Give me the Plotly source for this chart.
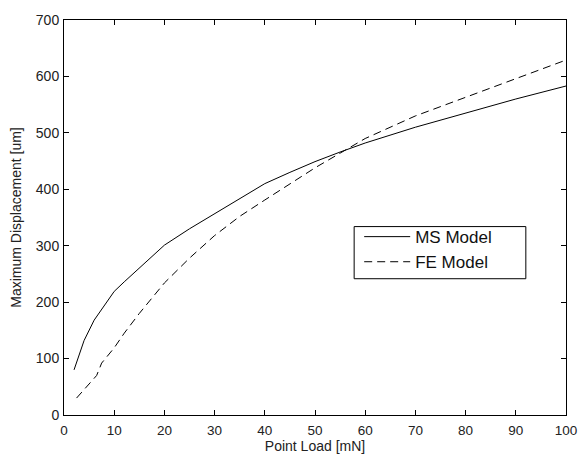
import plotly.graph_objects as go

ms_x = [2, 4, 6, 8, 10, 12, 15, 20, 25, 30, 35, 40, 45, 50, 55, 60, 70, 80, 90, 100]
ms_y = [80, 132, 168, 193, 219, 236, 260, 301, 330, 357, 384, 410, 430, 449, 466, 482, 510, 535, 560, 583]

fe_x = [2.5, 5, 6.5, 7.5, 10, 12, 15, 20, 25, 30, 35, 40, 45, 50, 55, 60, 70, 80, 90, 100]
fe_y = [30, 55, 70, 92, 119, 145, 180, 234, 278, 318, 352, 381, 410, 438, 464, 490, 530, 563, 597, 629]

x_ticks = [0, 10, 20, 30, 40, 50, 60, 70, 80, 90, 100]
y_ticks = [0, 100, 200, 300, 400, 500, 600, 700]

tick_font = dict(family="Liberation Sans, Arial", size=14, color="#222")
xtick_font = dict(family="Liberation Sans, Arial", size=13.5, color="#222")
title_font = dict(family="Liberation Sans, Arial", size=14, color="#222")

fig = go.Figure()
fig.add_trace(go.Scatter(x=ms_x, y=ms_y, mode="lines", name="MS Model",
                         line=dict(color="black", width=1)))
fig.add_trace(go.Scatter(x=fe_x, y=fe_y, mode="lines", name="FE Model",
                         line=dict(color="black", width=1, dash="8px,5px")))

axis_common = dict(showgrid=False, zeroline=False, showline=True, linecolor="black",
                   linewidth=1, mirror="ticks", ticks="inside", ticklen=5,
                   tickcolor="black", automargin=False, ticklabeloverflow="allow")

fig.update_layout(
    width=579, height=456,
    margin=dict(l=64, r=13, t=20, b=41),
    paper_bgcolor="white", plot_bgcolor="white",
    xaxis=dict(range=[0, 100], tickvals=x_ticks, ticklabelstandoff=3, tickfont=xtick_font,
               title=dict(text="Point Load [mN]", standoff=0, font=title_font),
               **axis_common),
    yaxis=dict(range=[0, 700], tickvals=y_ticks, ticklabelstandoff=1, tickfont=tick_font,
               title=dict(text="Maximum Displacement [um]", standoff=10, font=title_font),
               **axis_common),
    legend=dict(x=0.588, y=0.496, xanchor="left", yanchor="top",
                borderwidth=0, bgcolor="rgba(0,0,0,0)",
                font=dict(family="Liberation Sans, Arial", size=17, color="#111"),
                itemwidth=46, tracegroupgap=0),
    shapes=[dict(type="rect", xref="paper", yref="paper",
                 x0=0.578, x1=0.920, y0=0.345, y1=0.477,
                 line=dict(color="black", width=1), fillcolor="white", layer="below")],
    showlegend=True,
)

# remove the default 8px page margin so the figure fills the window exactly
fig.write_html("out.html",
               config={"displayModeBar": False},
               post_script="document.body.style.margin='0';document.body.style.overflow='hidden';")
